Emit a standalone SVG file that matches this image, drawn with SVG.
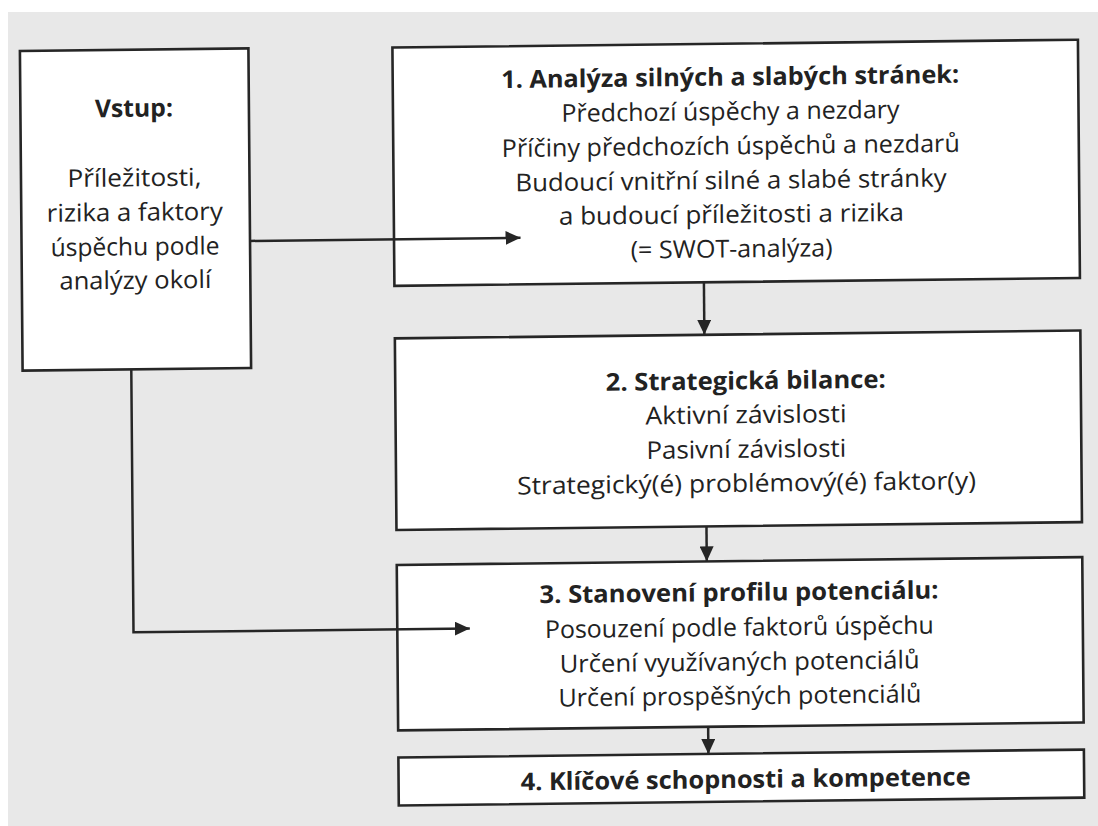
<svg xmlns="http://www.w3.org/2000/svg" width="1098" height="826" viewBox="0 0 1098 826">
  <style>
    .box { fill: #ffffff; stroke: #262626; stroke-width: 2.6; }
    .wire { fill: none; stroke: #262626; stroke-width: 2.5; }
    text { font-family: "Open Sans", "Noto Sans", "DejaVu Sans", sans-serif; font-size: 24.5px; font-weight: 500; fill: #222222; text-anchor: middle; }
    .head { font-weight: 700; }
  </style>
  <defs>
    <marker id="arrow" markerUnits="userSpaceOnUse" markerWidth="15" markerHeight="14" refX="15" refY="7" orient="auto">
      <path d="M0,0 L15,7 L0,14 Z" fill="#262626"/>
    </marker>
  </defs>

  <!-- paper -->
  <rect x="0" y="0" width="1098" height="826" fill="#ffffff"/>
  <rect x="8" y="12" width="1090" height="814" fill="#e8e8e8"/>

  <!-- whole sheet sits slightly askew -->
  <g transform="matrix(1,-0.0115,0.0084,1,-3.47,6.325)">

    <g id="vstup">
      <rect class="box" x="23" y="45" width="228.5" height="319.5"/>
      <text class="head" x="136.5" y="112" textLength="78" lengthAdjust="spacingAndGlyphs">Vstup:</text>
      <text x="136.5" y="181.5" textLength="134" lengthAdjust="spacingAndGlyphs">Příležitosti,</text>
      <text x="136.5" y="216" textLength="176" lengthAdjust="spacingAndGlyphs">rizika a faktory</text>
      <text x="136.5" y="250.5" textLength="169" lengthAdjust="spacingAndGlyphs">úspěchu podle</text>
      <text x="136.5" y="284" textLength="152" lengthAdjust="spacingAndGlyphs">analýzy okolí</text>
    </g>

    <g id="step1">
      <rect class="box" x="395.5" y="45.8" width="685.5" height="238.3"/>
      <text class="head" x="733" y="87.5" textLength="458" lengthAdjust="spacingAndGlyphs">1. Analýza silných a slabých stránek:</text>
      <text x="733" y="122" textLength="338" lengthAdjust="spacingAndGlyphs">Předchozí úspěchy a nezdary</text>
      <text x="733" y="156.5" textLength="458" lengthAdjust="spacingAndGlyphs">Příčiny předchozích úspěchů a nezdarů</text>
      <text x="733" y="191" textLength="431" lengthAdjust="spacingAndGlyphs">Budoucí vnitřní silné a slabé stránky</text>
      <text x="733" y="225" textLength="345" lengthAdjust="spacingAndGlyphs">a budoucí příležitosti a rizika</text>
      <text x="733" y="259.5" textLength="202" lengthAdjust="spacingAndGlyphs">(= SWOT-analýza)</text>
    </g>

    <g id="step2">
      <rect class="box" x="395.5" y="336.6" width="685.5" height="191.6"/>
      <text class="head" x="746" y="391.5" textLength="280" lengthAdjust="spacingAndGlyphs">2. Strategická bilance:</text>
      <text x="746" y="425.5" textLength="201" lengthAdjust="spacingAndGlyphs">Aktivní závislosti</text>
      <text x="746" y="460" textLength="200" lengthAdjust="spacingAndGlyphs">Pasivní závislosti</text>
      <text x="746" y="494" textLength="459" lengthAdjust="spacingAndGlyphs">Strategický(é) problémový(é) faktor(y)</text>
    </g>

    <g id="step3">
      <rect class="box" x="395.5" y="563.2" width="685.5" height="165.4"/>
      <text class="head" x="737.5" y="603" textLength="399" lengthAdjust="spacingAndGlyphs">3. Stanovení profilu potenciálu:</text>
      <text x="737.5" y="638" textLength="389" lengthAdjust="spacingAndGlyphs">Posouzení podle faktorů úspěchu</text>
      <text x="737.5" y="672.5" textLength="360" lengthAdjust="spacingAndGlyphs">Určení využívaných potenciálů</text>
      <text x="737.5" y="706.5" textLength="363" lengthAdjust="spacingAndGlyphs">Určení prospěšných potenciálů</text>
    </g>

    <g id="step4">
      <rect class="box" x="395.5" y="755.7" width="685.5" height="48"/>
      <text class="head" x="742.5" y="790" textLength="450" lengthAdjust="spacingAndGlyphs">4. Klíčové schopnosti a kompetence</text>
    </g>

    <g id="connectors">
      <path class="wire" d="M251.5,237.5 H522" marker-end="url(#arrow)"/>
      <path class="wire" d="M705,284.1 V336.6" marker-end="url(#arrow)"/>
      <path class="wire" d="M705.5,528.2 V563.2" marker-end="url(#arrow)"/>
      <path class="wire" d="M705.5,728.6 V755.7" marker-end="url(#arrow)"/>
      <path class="wire" d="M131.7,364.5 V627.5 H468" marker-end="url(#arrow)"/>
    </g>
  </g>
</svg>
